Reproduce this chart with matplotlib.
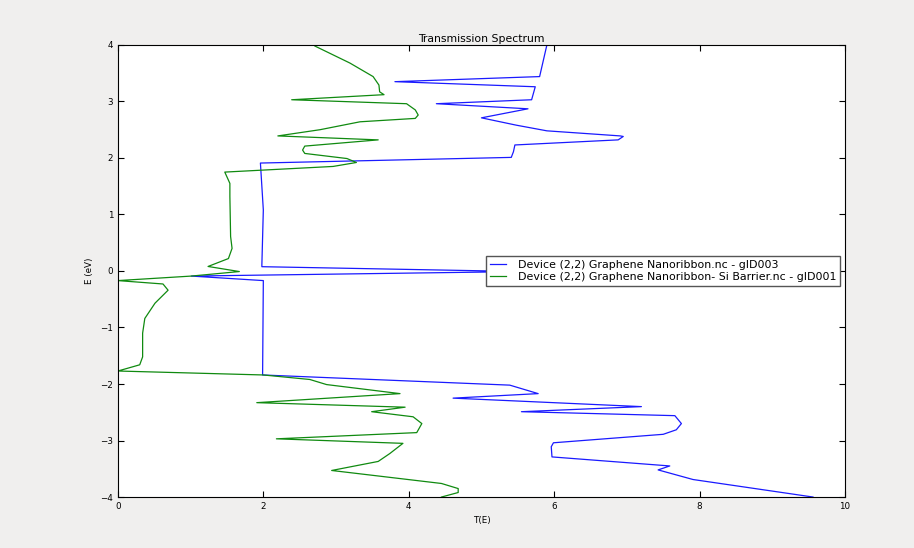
import matplotlib
matplotlib.use("Agg")
import matplotlib.pyplot as plt

# Transmission T(E) for the plain ribbon (gID003)
t_ribbon = [5.90, 5.80, 3.81, 5.74, 5.69, 4.38, 5.64, 5.00, 5.48, 5.90, 6.91, 6.95, 6.88,
            5.46, 5.44, 5.41, 1.96, 2.00, 1.98, 1.98, 5.56, 1.01, 2.00, 1.99,
            5.39, 5.78, 4.61, 7.20, 5.55, 7.66, 7.75, 7.68, 7.50, 5.99, 5.96, 5.97,
            7.59, 7.43, 7.91, 9.56]
e_ribbon = [4.00, 3.44, 3.35, 3.26, 3.03, 2.96, 2.87, 2.71, 2.58, 2.48, 2.39, 2.38, 2.32,
            2.23, 2.11, 2.01, 1.91, 1.08, 0.11, 0.076, -0.01, -0.09, -0.17, -1.84,
            -2.02, -2.17, -2.25, -2.40, -2.49, -2.56, -2.70, -2.81, -2.89, -3.04, -3.11, -3.29,
            -3.45, -3.52, -3.69, -4.00]

# Transmission T(E) for the ribbon with the Si barrier (gID001)
t_barrier = [2.71, 3.19, 3.51, 3.59, 3.60, 3.66, 2.39, 3.97, 4.09, 4.13, 4.09, 3.33, 2.78,
             2.20, 3.58, 2.57, 2.54, 2.57, 3.15, 3.28, 2.96, 1.47, 1.54, 1.54, 1.55, 1.57,
             1.52, 1.24, 1.67, 1.01, 0.00, 0.62, 0.69, 0.51, 0.37, 0.34, 0.34, 0.30, 0.00,
             2.00, 2.64, 2.87, 3.88, 1.91, 3.95, 3.49, 4.06, 4.18, 4.11, 2.18, 3.92, 3.74,
             3.58, 2.94, 4.45, 4.68, 4.68, 4.45]
e_barrier = [3.98, 3.68, 3.44, 3.29, 3.17, 3.12, 3.03, 2.96, 2.85, 2.76, 2.70, 2.64, 2.50,
             2.39, 2.32, 2.21, 2.14, 2.08, 1.99, 1.92, 1.85, 1.75, 1.55, 1.32, 0.61, 0.40,
             0.22, 0.08, -0.01, -0.09, -0.17, -0.23, -0.34, -0.57, -0.84, -1.10, -1.52, -1.66, -1.77,
             -1.84, -1.92, -2.01, -2.17, -2.33, -2.41, -2.49, -2.58, -2.70, -2.86, -2.97, -3.05, -3.23,
             -3.37, -3.53, -3.76, -3.85, -3.92, -4.00]

labels = ["Device (2,2) Graphene Nanoribbon.nc - gID003",
          "Device (2,2) Graphene Nanoribbon- Si Barrier.nc - gID001"]

plt.rcParams.update({
    "font.family": "DejaVu Sans",
    "xtick.direction": "in",
    "ytick.direction": "in",
    "xtick.top": True,
    "ytick.right": True,
    "xtick.major.size": 4,
    "ytick.major.size": 4,
    "xtick.labelsize": 6.3,
    "ytick.labelsize": 6.3,
})

fig = plt.figure(figsize=(9.14, 5.48), dpi=100, facecolor="#f0efee")
ax = fig.add_axes([0.129, 0.093, 0.7955, 0.825])

ax.plot(t_ribbon, e_ribbon, color="#1a1aff", lw=0.9, label=labels[0])
ax.plot(t_barrier, e_barrier, color="#108a10", lw=0.9, label=labels[1])

ax.set_xlim(0, 10)
ax.set_ylim(-4, 4)
ax.set_title("Transmission Spectrum", fontsize=7.8, pad=2)
ax.set_xlabel("T(E)", fontsize=6.3)
ax.set_ylabel("E (eV)", fontsize=6.3)
leg = ax.legend(loc="center right", fontsize=7.9, handlelength=1.4, handletextpad=1.1,
                fancybox=False, borderaxespad=0.45, borderpad=0.35, labelspacing=0.2,
                framealpha=1)
leg.get_frame().set_edgecolor("#555555")
fig.savefig("out.png", dpi=100, facecolor=fig.get_facecolor())
